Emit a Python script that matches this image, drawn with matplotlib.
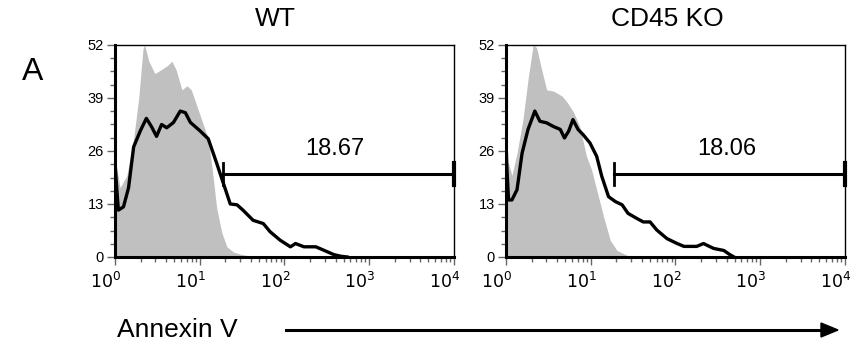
import numpy as np
import matplotlib.pyplot as plt
import matplotlib.transforms as mtransforms
from matplotlib.ticker import FixedLocator, LogLocator, NullFormatter

plt.rcParams['font.family'] = ['Liberation Sans', 'DejaVu Sans']

# Annexin V histograms, x in log10 units (decades), y = counts
wt_gray_x = [0.0, 0.02, 0.06, 0.14, 0.22, 0.28, 0.33, 0.35, 0.40, 0.47, 0.55, 0.62, 0.67,
             0.72, 0.79, 0.85, 0.90, 0.95, 1.00, 1.05, 1.10, 1.15, 1.20, 1.26, 1.32, 1.40,
             1.48, 1.60, 1.70]
wt_gray_y = [29, 22, 17, 20, 29, 39, 51, 52, 48, 45, 46, 47, 48, 46, 41, 42, 41, 38, 35,
             32, 29, 21, 12, 6, 2.5, 1.2, 0.7, 0.2, 0]

wt_line_x = [0.0, 0.02, 0.04, 0.10, 0.16, 0.22, 0.30, 0.37, 0.43, 0.49, 0.55, 0.61, 0.69,
             0.77, 0.83, 0.89, 1.00, 1.10, 1.20, 1.28, 1.36, 1.44, 1.51, 1.63, 1.75, 1.83,
             1.95, 2.07, 2.13, 2.23, 2.37, 2.47, 2.58, 2.66, 2.74]
wt_line_y = [23, 17, 11.5, 12.3, 17, 27, 31, 34, 32, 29.6, 32.5, 31.7, 33, 35.8, 35.4, 33,
             31, 29, 23, 18, 13, 12.8, 11.5, 9, 8.2, 6.2, 4.1, 2.5, 3.3, 2.5, 2.5, 1.6, 0.6,
             0.2, 0]

ko_gray_x = [0.0, 0.03, 0.07, 0.13, 0.20, 0.26, 0.32, 0.36, 0.42, 0.48, 0.56, 0.66, 0.72,
             0.80, 0.87, 0.95, 1.01, 1.07, 1.15, 1.23, 1.31, 1.43, 1.55]
ko_gray_y = [24, 23, 20, 25.5, 33.7, 43.6, 52, 51.4, 46, 41, 40.7, 39.5, 38, 35.4, 32,
             24.7, 21.4, 16.5, 10, 4.1, 1.6, 0.4, 0]

ko_line_x = [0.0, 0.01, 0.03, 0.07, 0.13, 0.19, 0.26, 0.34, 0.40, 0.48, 0.56, 0.64, 0.69,
             0.74, 0.79, 0.85, 0.91, 0.99, 1.07, 1.13, 1.21, 1.29, 1.37, 1.44, 1.54, 1.62,
             1.70, 1.78, 1.90, 2.02, 2.10, 2.25, 2.33, 2.45, 2.57, 2.64, 2.69]
ko_line_y = [28.8, 22, 14, 14, 16.5, 25.5, 31.3, 35.8, 33.3, 32.9, 32, 31.3, 29.2, 30.9,
             33.7, 31.3, 30, 28, 24.7, 19.8, 14.8, 13.6, 12.8, 10.7, 9.5, 8.6, 8.6, 6.6,
             4.5, 3.3, 2.6, 2.6, 3.3, 2.1, 1.6, 0.6, 0]

titles = ["WT", "CD45 KO"]
gate_pct = ["18.67", "18.06"]
gate_start = [19.0, 19.0]
gate_end = 1e4
gate_level = 20.4
y_ticks = [0, 13, 26, 39, 52]
x_ticks = [1, 10, 100, 1000, 10000]

panels = [(wt_gray_x, wt_gray_y, wt_line_x, wt_line_y),
          (ko_gray_x, ko_gray_y, ko_line_x, ko_line_y)]
lefts = [115 / 853, 506 / 853]
title_x = [275 / 853, 667 / 853]

fig = plt.figure(figsize=(8.53, 3.5), dpi=100)

for i, (gx, gy, lx, ly) in enumerate(panels):
    ax = fig.add_axes([lefts[i], 93 / 350, 339 / 853, 212 / 350])
    gxv = 10 ** np.array(gx)
    lxv = 10 ** np.array(lx)
    ax.fill_between(gxv, 0, gy, color="#c0c0c0", linewidth=0, zorder=1)
    ax.plot(lxv, ly, color="black", lw=2.4, zorder=3, solid_joinstyle="round")

    # gate marker
    ax.plot([gate_start[i], gate_end], [gate_level, gate_level], color="black", lw=2.2, zorder=4)
    ax.plot([gate_start[i]] * 2, [gate_level - 2.7, gate_level + 2.7], color="black", lw=2, zorder=4)
    ax.plot([gate_end] * 2, [gate_level - 2.7, gate_level + 2.7], color="black", lw=3, zorder=4,
            clip_on=False)
    ax.text(10 ** 2.6, 26.5, gate_pct[i], ha="center", va="center", fontsize=17)

    ax.set_xscale("log")
    ax.set_xlim(1, 1e4)
    ax.set_ylim(0, 52)
    ax.set_xticks(x_ticks)
    ax.set_xticklabels([r"$10^{%d}$" % k for k in range(5)])
    ax.xaxis.set_minor_locator(LogLocator(base=10, subs=np.arange(2, 10)))
    ax.xaxis.set_minor_formatter(NullFormatter())
    ax.set_yticks(y_ticks)
    ax.yaxis.set_minor_locator(FixedLocator(np.arange(0, 52.1, 3.25)))
    ax.tick_params(axis="both", which="major", length=6, width=1, color="#666666",
                   labelsize=10.5, pad=2)
    ax.tick_params(axis="x", which="major", labelsize=12.5, pad=4)
    ax.tick_params(axis="both", which="minor", length=3.5, width=1, color="#666666")

    # "10" sits left of the tick, exponent right over it
    shift = mtransforms.ScaledTranslation(6 / 100, 0, fig.dpi_scale_trans)
    for lab in ax.get_xticklabels():
        lab.set_horizontalalignment("right")
        lab.set_transform(lab.get_transform() + shift)

    ax.spines["left"].set_linewidth(2.2)
    ax.spines["bottom"].set_linewidth(2.2)
    ax.spines["top"].set_linewidth(1.0)
    ax.spines["right"].set_linewidth(1.0)

    fig.text(title_x[i], 1 - 19 / 350, titles[i], fontsize=19, ha="center", va="center")

fig.text(33 / 853, 1 - 72 / 350, "A", fontsize=23, ha="center", va="center")
fig.text(117 / 853, 1 - 330 / 350, "Annexin V", fontsize=19, ha="left", va="center")
fig.add_artist(plt.Line2D([286 / 853, 824 / 853], [1 - 330 / 350] * 2, color="black", lw=2.2))
fig.patches.append(plt.Polygon([[838 / 853, 1 - 330 / 350], [821 / 853, 1 - 323 / 350],
                                [821 / 853, 1 - 337 / 350]], closed=True, color="black",
                               transform=fig.transFigure, figure=fig))

fig.savefig("out.png", dpi=100)
